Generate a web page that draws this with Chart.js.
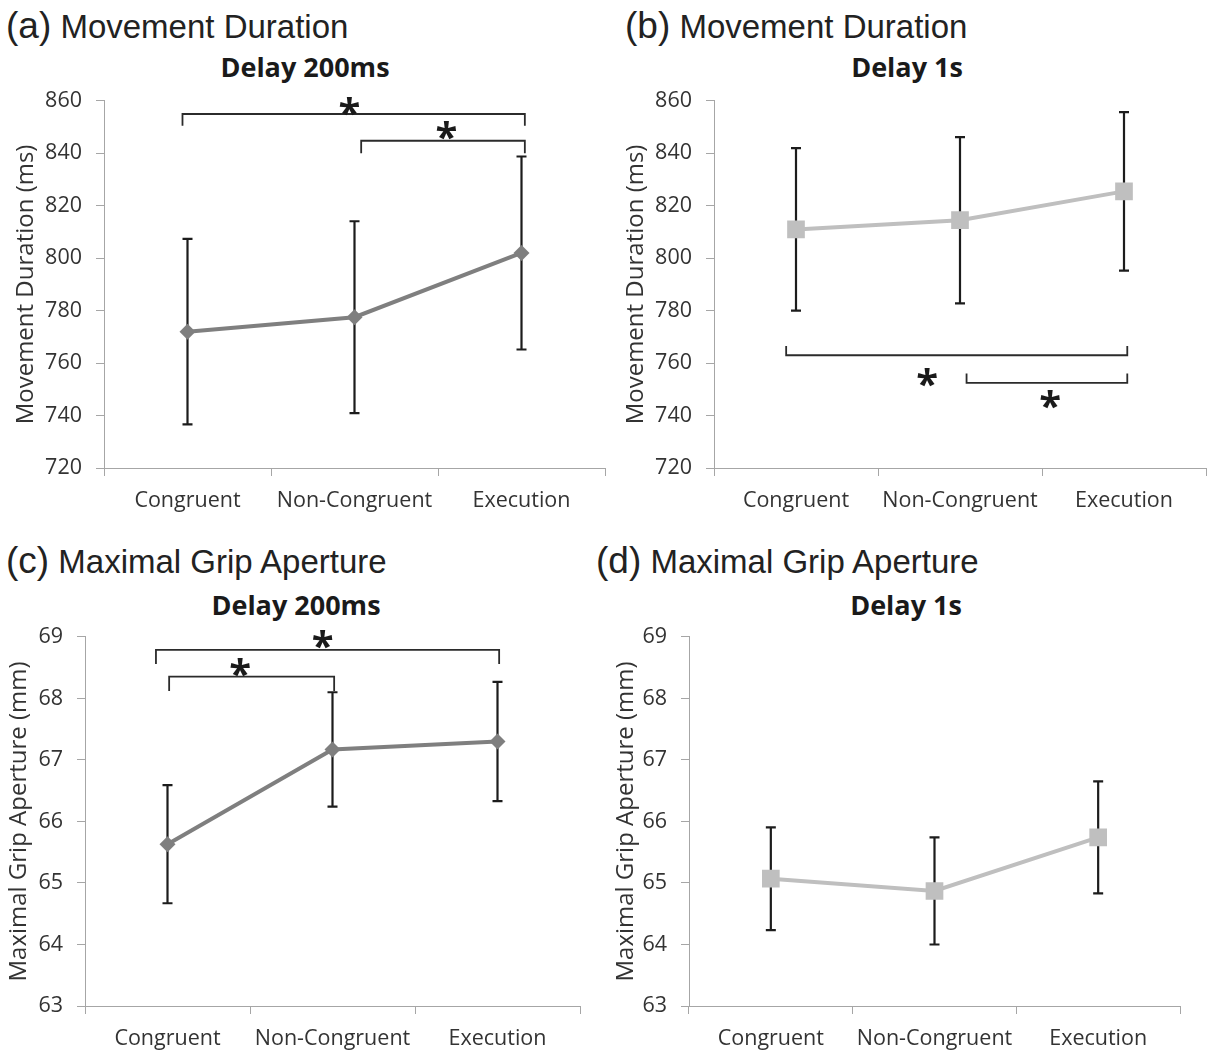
<!DOCTYPE html>
<html>
<head>
<meta charset="utf-8">
<script src="https://cdn.jsdelivr.net/npm/chart.js@4.4.0/dist/chart.umd.min.js"></script>
<style>
    body { margin: 0; background: #fff; width: 1207px; height: 1054px; position: relative; overflow: hidden; }
    .panel-title { position: absolute; font-family: "Liberation Sans", Arial, sans-serif; font-size: 33px; color: #222; white-space: nowrap; line-height: 1; }
    .panel-title span { font-size: 37px; }
    .sub-title { position: absolute; font-family: "Open Sans", sans-serif; font-weight: bold; font-size: 27px; color: #1a1a1a; transform: translateX(-50%); white-space: nowrap; line-height: 1; }
    canvas { position: absolute; }
</style>
</head>
<body>

<div class="panel-title" style="left:6px; top:7px;"><span>(a)</span> Movement Duration</div>
<div class="panel-title" style="left:625px; top:7px;"><span>(b)</span> Movement Duration</div>
<div class="panel-title" style="left:6px; top:542px;"><span>(c)</span> Maximal Grip Aperture</div>
<div class="panel-title" style="left:596px; top:542px;"><span>(d)</span> Maximal Grip Aperture</div>

<div class="sub-title" style="left:305px; top:53px;">Delay 200ms</div>
<div class="sub-title" style="left:907px; top:53px;">Delay 1s</div>
<div class="sub-title" style="left:296px; top:591px;">Delay 200ms</div>
<div class="sub-title" style="left:906px; top:591px;">Delay 1s</div>

<canvas id="chartA" width="610" height="456" style="left:0; top:74px;"></canvas>
<canvas id="chartB" width="603" height="456" style="left:604px; top:74px;"></canvas>
<canvas id="chartC" width="600" height="444" style="left:0; top:610px;"></canvas>
<canvas id="chartD" width="607" height="444" style="left:600px; top:610px;"></canvas>

<script>
// Dati
const categories = ['Congruent', 'Non-Congruent', 'Execution'];

// Movement Duration (ms)
const mdDelay200Means = [772, 777.5, 802];
const mdDelay200Errors = [35.4, 36.6, 36.8];
const mdDelay1sMeans = [811, 814.5, 825.5];
const mdDelay1sErrors = [31, 31.7, 30.2];
const mdTicks = { min: 720, max: 860, step: 20 };

// Maximal Grip Aperture (mm)
const mgaDelay200Means = [65.63, 67.17, 67.3];
const mgaDelay200Errors = [0.96, 0.93, 0.97];
const mgaDelay1sMeans = [65.07, 64.87, 65.74];
const mgaDelay1sErrors = [0.835, 0.87, 0.91];
const mgaTicks = { min: 63, max: 69, step: 1 };

// Parentesi di significatività (coordinate in unità dati)
const mdDelay200Brackets = [
    { from: -0.03, to: 2.02, y: 855, tip: 850.5, starX: 0.97, starY: 857.7 },
    { from: 1.04, to: 2.02, y: 844.8, tip: 840, starX: 1.55, starY: 848.6 }
];
const mdDelay1sBrackets = [
    { from: -0.06, to: 2.02, y: 763, tip: 766.5, starX: 0.8, starY: 754.6 },
    { from: 1.04, to: 2.02, y: 752.5, tip: 756, starX: 1.55, starY: 746 }
];
const mgaDelay200Brackets = [
    { from: -0.07, to: 2.01, y: 68.79, tip: 68.56, starX: 0.94, starY: 68.95 },
    { from: 0.01, to: 1.01, y: 68.355, tip: 68.12, starX: 0.44, starY: 68.51 }
];

const axisColor = '#a6a6a6';
const textColor = '#333333';
const tickFont = { family: 'Open Sans', size: 21.5 };
const titleFont = { family: 'Open Sans', size: 24 };

/**
 * Disegna le barre d'errore (sotto i marcatori)
 */
const errorBarPlugin = {
    id: 'errorBars',
    beforeDatasetsDraw(chart, args, opts) {
        const ctx = chart.ctx;
        const meta = chart.getDatasetMeta(0);
        const ys = chart.scales.y;
        const means = chart.data.datasets[0].data;
        ctx.save();
        ctx.strokeStyle = '#1c1c1c';
        ctx.lineWidth = 2.2;
        meta.data.forEach((pt, i) => {
            const top = ys.getPixelForValue(means[i] + opts.errors[i]);
            const bot = ys.getPixelForValue(means[i] - opts.errors[i]);
            ctx.beginPath();
            ctx.moveTo(pt.x, top);
            ctx.lineTo(pt.x, bot);
            ctx.moveTo(pt.x - 5, top);
            ctx.lineTo(pt.x + 5, top);
            ctx.moveTo(pt.x - 5, bot);
            ctx.lineTo(pt.x + 5, bot);
            ctx.stroke();
        });
        ctx.restore();
    }
};

/**
 * Disegna parentesi e asterischi
 */
const bracketPlugin = {
    id: 'sigBrackets',
    afterDatasetsDraw(chart, args, opts) {
        const items = opts.items || [];
        if (!items.length) return;
        const ctx = chart.ctx;
        const xs = chart.scales.x;
        const ys = chart.scales.y;
        ctx.save();
        ctx.strokeStyle = '#2b2b2b';
        ctx.lineWidth = 1.8;
        ctx.fillStyle = '#1a1a1a';
        ctx.font = 'bold 40px "Open Sans"';
        ctx.textAlign = 'center';
        items.forEach(b => {
            const x1 = xs.getPixelForValue(b.from);
            const x2 = xs.getPixelForValue(b.to);
            const yl = ys.getPixelForValue(b.y);
            const yt = ys.getPixelForValue(b.tip);
            ctx.beginPath();
            ctx.moveTo(x1, yt);
            ctx.lineTo(x1, yl);
            ctx.lineTo(x2, yl);
            ctx.lineTo(x2, yt);
            ctx.stroke();

            const m = ctx.measureText('*');
            const sx = xs.getPixelForValue(b.starX);
            const sy = ys.getPixelForValue(b.starY);
            ctx.fillText('*', sx, sy + (m.actualBoundingBoxAscent - m.actualBoundingBoxDescent) / 2);
        });
        ctx.restore();
    }
};

function createPanel(id, cfg) {
    const ctx = document.getElementById(id).getContext('2d');
    return new Chart(ctx, {
        type: 'line',
        data: {
            labels: categories,
            datasets: [{
                data: cfg.means,
                borderColor: cfg.color,
                backgroundColor: cfg.color,
                borderWidth: 4,
                pointStyle: cfg.marker,
                pointRadius: cfg.radius,
                pointBorderWidth: 0,
                tension: 0
            }]
        },
        options: {
            responsive: false,
            animation: false,
            devicePixelRatio: 1,
            layout: { padding: cfg.padding, autoPadding: false },
            plugins: {
                legend: { display: false },
                tooltip: { enabled: false },
                errorBars: { errors: cfg.errors },
                sigBrackets: { items: cfg.brackets }
            },
            scales: {
                x: {
                    offset: true,
                    grid: { offset: true, drawOnChartArea: false, color: axisColor, tickLength: 8 },
                    border: { color: axisColor, width: 1 },
                    ticks: { font: tickFont, color: textColor, padding: 12, maxRotation: 0 },
                    afterFit: s => { s.height = cfg.xHeight; }
                },
                y: {
                    min: cfg.ticks.min,
                    max: cfg.ticks.max,
                    ticks: { stepSize: cfg.ticks.step, font: tickFont, color: textColor, padding: 14 },
                    grid: { drawOnChartArea: false, color: axisColor, tickLength: 8 },
                    border: { color: axisColor, width: 1 },
                    title: { display: true, text: cfg.yTitle, font: titleFont, color: textColor, padding: { top: cfg.titlePad, bottom: 0 } },
                    afterFit: s => { s.width = cfg.yWidth; }
                }
            }
        },
        plugins: [errorBarPlugin, bracketPlugin]
    });
}

const darkGray = '#7f7f7f';
const lightGray = '#bfbfbf';

createPanel('chartA', {
    means: mdDelay200Means, errors: mdDelay200Errors, brackets: mdDelay200Brackets,
    color: darkGray, marker: 'rectRot', radius: 8, ticks: mdTicks,
    yTitle: 'Movement Duration (ms)', titlePad: 12,
    padding: { top: 0, right: 5, left: 0, bottom: 0 }, yWidth: 104, xHeight: 62
});
createPanel('chartB', {
    means: mdDelay1sMeans, errors: mdDelay1sErrors, brackets: mdDelay1sBrackets,
    color: lightGray, marker: 'rect', radius: 12.5, ticks: mdTicks,
    yTitle: 'Movement Duration (ms)', titlePad: 18,
    padding: { top: 0, right: 1, left: 0, bottom: 0 }, yWidth: 110, xHeight: 62
});
createPanel('chartC', {
    means: mgaDelay200Means, errors: mgaDelay200Errors, brackets: mgaDelay200Brackets,
    color: darkGray, marker: 'rectRot', radius: 8, ticks: mgaTicks,
    yTitle: 'Maximal Grip Aperture (mm)', titlePad: 5,
    padding: { top: 0, right: 20, left: 0, bottom: 0 }, yWidth: 85, xHeight: 48
});
createPanel('chartD', {
    means: mgaDelay1sMeans, errors: mgaDelay1sErrors, brackets: [],
    color: lightGray, marker: 'rect', radius: 12.5, ticks: mgaTicks,
    yTitle: 'Maximal Grip Aperture (mm)', titlePad: 12,
    padding: { top: 0, right: 27, left: 0, bottom: 0 }, yWidth: 89, xHeight: 48
});
</script>
</body>
</html>
